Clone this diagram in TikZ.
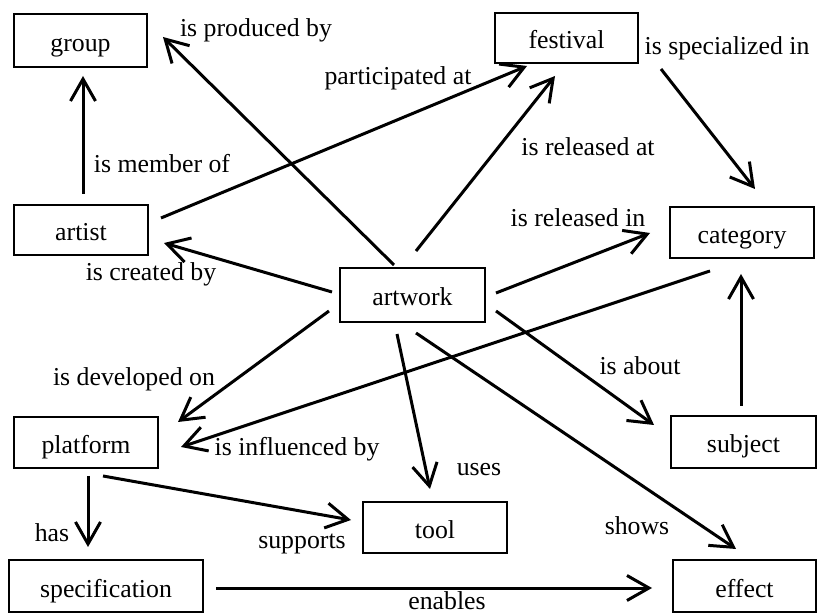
\documentclass[tikz,border=0pt]{standalone}
\usepackage{fontspec}
\setmainfont{Liberation Serif}
\usetikzlibrary{arrows.meta,calc}
\begin{document}
\begin{tikzpicture}[x=0.5pt,y=-0.5pt,
  box/.style={draw,line width=1pt,inner sep=0pt,font=\fontsize{12.9}{15}\selectfont,text height=11pt,text depth=0pt},
  lab/.style={inner sep=0pt,font=\fontsize{12.9}{15}\selectfont},
  conn/.style={line width=1.5pt,-{Straight Barb[length=11pt,width=12.5pt,line width=1.5pt]}}]
\useasboundingbox[fill=white] (0,0) rectangle (818,613);
% boxes
\node[box,minimum width=66.5pt,minimum height=26.5pt] (group) at (80.5,40.5) {group};
\node[box,minimum width=67pt,minimum height=25pt] (artist) at (81,230) {artist};
\node[box,minimum width=71.5pt,minimum height=25pt] (festival) at (566.5,38) {festival};
\node[box,minimum width=72pt,minimum height=25.5pt] (category) at (742,232.5) {category};
\node[box,minimum width=72.5pt,minimum height=27pt] (artwork) at (412.5,295) {artwork};
\node[box,minimum width=72pt,minimum height=25.5pt] (platform) at (86,442.5) {platform};
\node[box,minimum width=72pt,minimum height=25.5pt] (tool) at (435,527.5) {tool};
\node[box,minimum width=97pt,minimum height=26pt] (spec) at (106,586) {specification};
\node[box,minimum width=72.5pt,minimum height=26pt] (subject) at (743.5,442) {subject};
\node[box,minimum width=71.5pt,minimum height=26pt] (effect) at (744.5,586) {effect};
% connectors
\draw[conn] ($(artist.north)+(2,-10)$) -- ($(group.south)+(2.5,8)$);
\draw[conn] ($(artwork.north west)+(55,-2)$) -- ($(group.east)+(15,-3.5)$);
\draw[conn] ($(artist.east)+(12,-12)$) -- ($(festival.south west)+(33,2)$);
\draw[conn] ($(artwork.north)+(3.5,-16)$) -- ($(festival.south)+(-11.5,12)$);
\draw[conn] ($(festival.south east)+(22,5)$) -- ($(category.north)+(13,-17)$);
\draw[conn] ($(artwork.east)+(10,-2)$) -- ($(category.west)+(-19,0.5)$);
\draw[conn] ($(category.south)+(-32,12)$) -- ($(platform.east)+(22,4.5)$);
\draw[conn] ($(artwork.west)+(-7,-3)$) -- ($(artist.east)+(15,13)$);
\draw[conn] ($(artwork.south west)+(-10,-12)$) -- ($(platform.north east)+(19,6)$);
\draw[conn] ($(artwork.south)+(-15.5,11)$) -- ($(tool.north)+(-5,-12)$);
\draw[conn] ($(artwork.south east)+(10,-12)$) -- ($(subject.west)+(-16,-17)$);
\draw[conn] ($(artwork.south)+(3.5,10)$) -- ($(effect.north)+(-8.5,-10)$);
\draw[conn] ($(subject.north)+(-2.5,-9)$) -- ($(category.south)+(-1,15)$);
\draw[conn] ($(platform.south)+(2,7)$) -- ($(spec.north)+(-18,-12)$);
\draw[conn] ($(platform.south)+(17,7)$) -- ($(tool.west)+(-11,-7.5)$);
\draw[conn] ($(spec.east)+(12,2)$) -- ($(effect.west)+(-20,2)$);
% labels
\node[lab] (l1) at (256,30) {is produced by};
\node[lab] (l2) at (398,78) {participated at};
\node[lab] (l3) at (727,48) {is specialized in};
\node[lab] (l4) at (162,164) {is member of};
\node[lab] (l5) at (588,147) {is released at};
\node[lab] (l6) at (578,218) {is released in};
\node[lab] (l7) at (151,274) {is created by};
\node[lab] (l8) at (134,379) {is developed on};
\node[lab] (l9) at (297,449) {is influenced by};
\node[lab] (l10) at (52,533) {has};
\node[lab] (l11) at (302,544) {supports};
\node[lab] (l12) at (479,470) {uses};
\node[lab] (l13) at (640,366) {is about};
\node[lab] (l14) at (637,526) {shows};
\node[lab] (l15) at (447,601) {enables};
\end{tikzpicture}
\end{document}
